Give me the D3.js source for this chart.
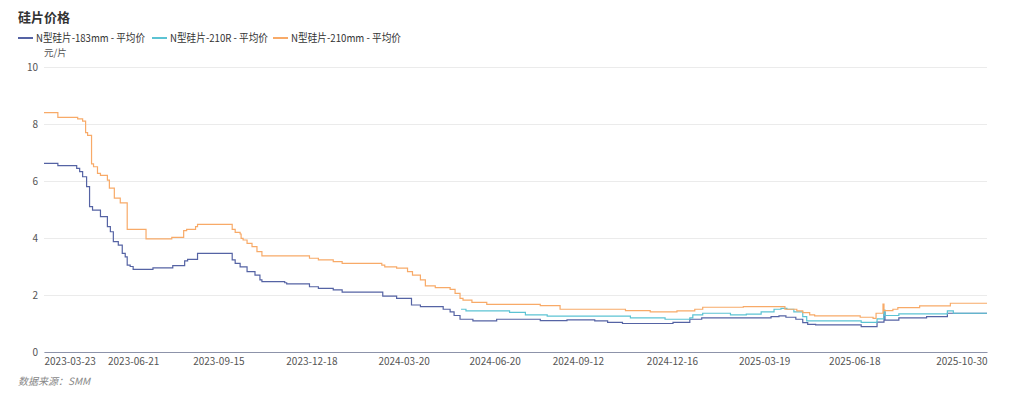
<!DOCTYPE html>
<html>
<head>
<meta charset="utf-8">
<script src="https://cdn.jsdelivr.net/npm/d3@7"></script>
<style>
  body { margin: 0; background: #fff; }
  svg { font-family: "Noto Sans CJK SC", "Noto Sans", sans-serif; }
</style>
</head>
<body>
<div id="chart"></div>
<script>
// Series names
var seriesNames = ["N型硅片-183mm - 平均价", "N型硅片-210R - 平均价", "N型硅片-210mm - 平均价"];
var seriesColors = ["#5563a4", "#5cc3d3", "#f8aa68"];

// N型硅片-183mm (change points, step after)
var dates183 = ["2023-03-23","2023-04-06","2023-04-25","2023-04-28","2023-05-01","2023-05-05","2023-05-08","2023-05-11","2023-05-19","2023-05-26","2023-05-29","2023-06-01","2023-06-06","2023-06-10","2023-06-13","2023-06-15","2023-06-18","2023-06-21","2023-07-11","2023-07-31","2023-08-12","2023-08-15","2023-08-25","2023-09-29","2023-10-02","2023-10-07","2023-10-14","2023-10-22","2023-10-27","2023-10-29","2023-11-21","2023-11-23","2023-12-16","2023-12-25","2024-01-09","2024-01-18","2024-02-28","2024-03-13","2024-03-28","2024-04-06","2024-04-29","2024-05-06","2024-05-10","2024-05-16","2024-05-29","2024-06-22","2024-08-05","2024-09-01","2024-09-29","2024-10-12","2024-10-27","2024-12-17","2025-01-03","2025-01-15","2025-03-26","2025-04-03","2025-04-10","2025-04-20","2025-04-27","2025-05-02","2025-05-10","2025-06-25","2025-07-11","2025-07-18","2025-07-19","2025-08-02","2025-08-30","2025-09-20","2025-10-30"];
var vals183 = [6.62,6.54,6.44,6.33,6.15,5.8,5.1,4.98,4.75,4.4,4.22,3.87,3.75,3.46,3.34,3.05,3.0,2.9,2.95,3.03,3.2,3.25,3.46,3.23,3.11,2.99,2.82,2.7,2.53,2.47,2.43,2.39,2.29,2.23,2.18,2.1,1.96,1.88,1.65,1.59,1.5,1.41,1.28,1.15,1.09,1.15,1.1,1.13,1.09,1.04,1.0,1.04,1.15,1.2,1.24,1.27,1.22,1.15,1.03,0.97,0.95,0.89,1.05,1.4,1.12,1.2,1.24,1.36,1.36];

// N型硅片-210R
var dates210R = ["2024-05-17","2024-05-22","2024-07-05","2024-07-21","2024-08-12","2024-11-04","2024-12-09","2025-01-03","2025-01-06","2025-01-16","2025-02-13","2025-03-01","2025-03-16","2025-03-29","2025-04-05","2025-04-11","2025-04-18","2025-04-27","2025-05-01","2025-06-25","2025-07-11","2025-07-18","2025-07-19","2025-08-02","2025-09-20","2025-09-26","2025-10-30"];
var vals210R = [1.5,1.44,1.39,1.3,1.26,1.2,1.15,1.2,1.3,1.36,1.3,1.33,1.41,1.5,1.53,1.5,1.41,1.24,1.09,1.04,1.16,1.47,1.28,1.34,1.44,1.36,1.36];

// N型硅片-210mm
var dates210 = ["2023-03-23","2023-04-06","2023-04-26","2023-05-01","2023-05-04","2023-05-06","2023-05-10","2023-05-12","2023-05-16","2023-05-19","2023-05-26","2023-05-28","2023-06-02","2023-06-08","2023-06-15","2023-07-04","2023-07-30","2023-08-11","2023-08-14","2023-08-23","2023-08-25","2023-09-29","2023-10-02","2023-10-07","2023-10-08","2023-10-10","2023-10-14","2023-10-19","2023-10-24","2023-10-29","2023-12-16","2023-12-25","2024-01-09","2024-01-18","2024-02-27","2024-03-01","2024-03-13","2024-03-24","2024-03-29","2024-04-06","2024-04-11","2024-04-21","2024-05-06","2024-05-11","2024-05-16","2024-05-19","2024-05-28","2024-06-12","2024-08-05","2024-08-25","2024-10-30","2024-11-24","2024-12-21","2025-01-08","2025-01-16","2025-02-26","2025-04-09","2025-04-21","2025-04-27","2025-05-04","2025-05-09","2025-06-24","2025-07-07","2025-07-10","2025-07-17","2025-07-18","2025-07-27","2025-08-01","2025-08-23","2025-09-23","2025-10-30"];
var vals210 = [8.4,8.23,8.18,8.1,7.7,7.6,6.6,6.5,6.27,6.2,6.03,5.75,5.4,5.23,4.3,3.97,4.02,4.26,4.3,4.4,4.48,4.3,4.2,4.14,3.99,3.93,3.81,3.7,3.52,3.37,3.29,3.23,3.17,3.11,3.05,2.99,2.94,2.82,2.7,2.53,2.32,2.26,2.2,2.06,1.88,1.82,1.74,1.67,1.63,1.5,1.45,1.41,1.44,1.5,1.57,1.59,1.5,1.44,1.38,1.3,1.27,1.22,1.18,1.36,1.68,1.45,1.5,1.56,1.62,1.71,1.71];

// Axis labels
var xTickLabels = ["2023-03-23","2023-06-21","2023-09-15","2023-12-18","2024-03-20","2024-06-20","2024-09-12","2024-12-16","2025-03-19","2025-06-18","2025-10-30"];
var yTicks = [0, 2, 4, 6, 8, 10];

var width = 1024, height = 399;
var margin = { top: 67, right: 37, bottom: 47, left: 44 };
var innerW = width - margin.left - margin.right,
    innerH = height - margin.top - margin.bottom;

var parse = d3.timeParse("%Y-%m-%d");

var svg = d3.select("#chart")
    .append("svg")
    .attr("width", width)
    .attr("height", height);

// Title
svg.append("text")
    .attr("x", 18).attr("y", 22)
    .attr("font-size", 13).attr("font-weight", "bold")
    .attr("fill", "#333")
    .text("硅片价格");

// Legend (widths squeezed to fit the original's narrower font)
var legendX = [18, 152, 273];
var legendTextW = [109, 98, 110];
seriesNames.forEach(function (name, i) {
    var g = svg.append("g").attr("transform", "translate(" + legendX[i] + ",38)");
    g.append("line")
        .attr("x1", 0).attr("x2", 15)
        .attr("stroke", seriesColors[i]).attr("stroke-width", 2);
    g.append("text")
        .attr("x", 18).attr("y", 4)
        .attr("font-size", 11).attr("fill", "#333")
        .attr("textLength", legendTextW[i])
        .attr("lengthAdjust", "spacingAndGlyphs")
        .text(name);
});

var chart = svg.append("g")
    .attr("transform", "translate(" + margin.left + "," + margin.top + ")");

var x = d3.scaleTime()
    .domain([parse(xTickLabels[0]), parse(xTickLabels[xTickLabels.length - 1])])
    .range([0, innerW]);

var y = d3.scaleLinear()
    .domain([0, 10])
    .range([innerH, 0]);

// Grid lines + y labels
var yAxis = chart.append("g")
    .call(d3.axisLeft(y).tickValues(yTicks).tickSize(-innerW).tickPadding(6));
yAxis.select(".domain").remove();
yAxis.selectAll(".tick line").attr("stroke", "#ebebeb");
yAxis.selectAll(".tick text").attr("fill", "#555").attr("font-size", 10)
    .attr("font-family", "\"Noto Sans CJK SC\", sans-serif");

// Unit label
chart.append("text")
    .attr("x", 0).attr("y", -11)
    .attr("font-size", 9.5).attr("fill", "#555")
    .text("元/片");

// X axis
var xAxis = chart.append("g")
    .attr("transform", "translate(0," + innerH + ")")
    .call(d3.axisBottom(x)
        .tickValues(xTickLabels.map(parse))
        .tickFormat(d3.timeFormat("%Y-%m-%d"))
        .tickSize(0).tickPadding(6));
xAxis.select(".domain").attr("stroke", "#8d93aa");
xAxis.selectAll(".tick text")
    .attr("fill", "#555").attr("font-size", 10)
    .attr("font-family", "\"Noto Sans CJK SC\", sans-serif")
    .attr("text-anchor", function (d, i) {
        if (i === 0) return "start";
        if (i === xTickLabels.length - 1) return "end";
        return "middle";
    });

// Lines
var line = d3.line()
    .curve(d3.curveStepAfter)
    .x(function (d) { return x(d.date); })
    .y(function (d) { return y(d.value); });

var allSeries = [
    { dates: dates183, vals: vals183 },
    { dates: dates210R, vals: vals210R },
    { dates: dates210, vals: vals210 }
];

allSeries.forEach(function (s, i) {
    var data = s.dates.map(function (d, j) { return { date: parse(d), value: s.vals[j] }; });
    chart.append("path")
        .datum(data)
        .attr("fill", "none")
        .attr("stroke", seriesColors[i])
        .attr("stroke-width", 1.2)
        .attr("d", line);
});

// Source note
svg.append("text")
    .attr("x", 18).attr("y", 385)
    .attr("font-size", 10).attr("font-style", "italic")
    .attr("fill", "#888")
    .text("数据来源：SMM");
</script>
</body>
</html>
